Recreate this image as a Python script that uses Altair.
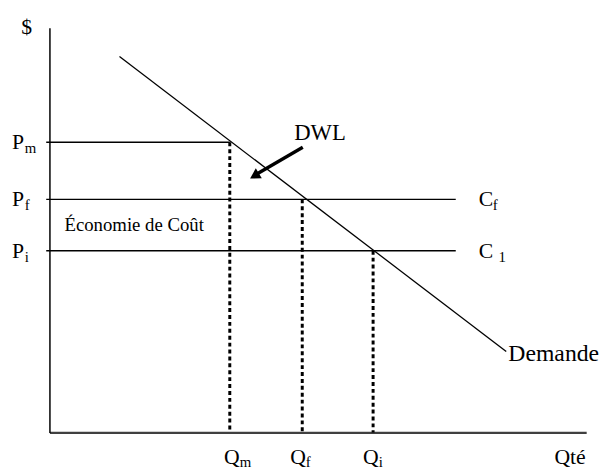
import altair as alt
import pandas as pd

# ---- data (economic units: quantity 0-100, price 0-100) ----
price_names = ["m", "f", "i"]
price_values = [71.7, 57.6, 44.9]
qty_values = [33.6, 47.1, 60.3]
qty_label_pos = [34.0, 46.3, 59.9]
cost_line_end = [33.6, 75.7, 75.7]   # where each horizontal line stops
demand_q = [13.05, 85.1]
demand_p = [92.9, 20.0]
arrow_q = [47.2, 38.8]
arrow_p = [70.5, 64.0]
arrow_head = (38.2, 63.4)

FONT = "Liberation Serif"
W, H = 544, 410

xs = alt.Scale(domain=[0, 100])
ys = alt.Scale(domain=[0, 100])

X_AX = alt.Axis(title=None, labels=False, ticks=False, grid=False,
                domainColor="#404040", domainWidth=2.5)
Y_AX = alt.Axis(title=None, labels=False, ticks=False, grid=False,
                domainColor="black", domainWidth=1.5)

axes_df = pd.DataFrame({"q": [0, 100], "p": [0, 100]})
axes = alt.Chart(axes_df).mark_point(opacity=0).encode(
    x=alt.X("q:Q", scale=xs, axis=X_AX),
    y=alt.Y("p:Q", scale=ys, axis=Y_AX),
)

demand_df = pd.DataFrame({"q": demand_q, "p": demand_p})
demand = alt.Chart(demand_df).mark_line(color="black", strokeWidth=1.3).encode(
    x=alt.X("q:Q", scale=xs), y=alt.Y("p:Q", scale=ys))

cost_df = pd.DataFrame({"p": price_values, "x0": [-0.6] * 3, "x1": cost_line_end})
cost = alt.Chart(cost_df).mark_rule(color="black", strokeWidth=1.5).encode(
    x=alt.X("x0:Q", scale=xs), x2="x1:Q", y=alt.Y("p:Q", scale=ys))

drop_df = pd.DataFrame({"q": qty_values, "p": price_values, "p0": [0] * 3})
drops = alt.Chart(drop_df).mark_rule(color="black", strokeWidth=3, strokeDash=[4, 3]).encode(
    x=alt.X("q:Q", scale=xs), y=alt.Y("p:Q", scale=ys), y2="p0:Q")

arrow_df = pd.DataFrame({"q": arrow_q, "p": arrow_p})
arrow = alt.Chart(arrow_df).mark_line(color="black", strokeWidth=3.4).encode(
    x=alt.X("q:Q", scale=xs), y=alt.Y("p:Q", scale=ys))
head_df = pd.DataFrame({"q": [arrow_head[0]], "p": [arrow_head[1]]})
head = alt.Chart(head_df).mark_point(shape="triangle-up", filled=True, color="black",
                                     size=140, angle=239, opacity=1).encode(
    x=alt.X("q:Q", scale=xs), y=alt.Y("p:Q", scale=ys))

# ---- text ----
MAIN = 22
SUB = 15

p_df = pd.DataFrame({"p": price_values, "s": price_names, "m": ["P"] * 3})
p_main = alt.Chart(p_df).mark_text(font=FONT, fontSize=MAIN, align="left", baseline="middle").encode(
    x=alt.value(-38), y=alt.Y("p:Q", scale=ys), text="m:N")
p_sub = alt.Chart(p_df).mark_text(font=FONT, fontSize=SUB, align="left", baseline="middle", dy=6).encode(
    x=alt.value(-25), y=alt.Y("p:Q", scale=ys), text="s:N")

q_df = pd.DataFrame({"q": qty_label_pos, "s": price_names, "m": ["Q"] * 3})
q_main = alt.Chart(q_df).mark_text(font=FONT, fontSize=MAIN, align="center", baseline="alphabetic").encode(
    x=alt.X("q:Q", scale=xs), y=alt.value(H + 32), text="m:N")
q_sub = alt.Chart(q_df).mark_text(font=FONT, fontSize=SUB, align="left", baseline="alphabetic",
                                  dx=8, dy=3).encode(
    x=alt.X("q:Q", scale=xs), y=alt.value(H + 32), text="s:N")

c_df = pd.DataFrame({"p": [price_values[1], price_values[2]], "m": ["C", "C"], "s": ["f", "1"],
                     "q": [80.0, 80.0]})
c_main = alt.Chart(c_df).mark_text(font=FONT, fontSize=MAIN, align="left", baseline="middle").encode(
    x=alt.X("q:Q", scale=xs), y=alt.Y("p:Q", scale=ys), text="m:N")
c_sub_f = alt.Chart(c_df.iloc[[0]]).mark_text(font=FONT, fontSize=SUB, align="left", baseline="middle",
                                               dx=14, dy=6).encode(
    x=alt.X("q:Q", scale=xs), y=alt.Y("p:Q", scale=ys), text="s:N")
c_sub_1 = alt.Chart(c_df.iloc[[1]]).mark_text(font=FONT, fontSize=SUB, align="left", baseline="middle",
                                               dx=20, dy=6).encode(
    x=alt.X("q:Q", scale=xs), y=alt.Y("p:Q", scale=ys), text="s:N")

notes_df = pd.DataFrame({
    "q": [2.8, 45.6, 85.5],
    "p": [51.25, 73.9, 19.3],
    "t": ["Économie de Coût", "DWL", "Demande"],
    "fs": [19, 23, 24],
})
notes = alt.Chart(notes_df).mark_text(font=FONT, align="left", baseline="middle").encode(
    x=alt.X("q:Q", scale=xs), y=alt.Y("p:Q", scale=ys), text="t:N",
    size=alt.Size("fs:Q", scale=None, legend=None))

dollar = alt.Chart(pd.DataFrame({"t": ["$"]})).mark_text(
    font=FONT, fontSize=MAIN, align="center", baseline="middle").encode(
    x=alt.value(-23), y=alt.value(-1), text="t:N")
qte = alt.Chart(pd.DataFrame({"t": ["Qté"], "q": [97.0]})).mark_text(
    font=FONT, fontSize=MAIN, align="center", baseline="alphabetic").encode(
    x=alt.X("q:Q", scale=xs), y=alt.value(H + 32), text="t:N")

chart = alt.layer(axes, demand, cost, drops, arrow, head,
                  p_main, p_sub, q_main, q_sub, c_main, c_sub_f, c_sub_1, notes, dollar, qte).properties(
    width=W, height=H,
    autosize=alt.AutoSizeParams(type="none"),
    padding={"left": 42, "top": 17, "right": 14, "bottom": 36},
    background="white",
).configure_view(stroke=None)

chart.save("out.html", embed_options={"renderer": "svg", "actions": False})
